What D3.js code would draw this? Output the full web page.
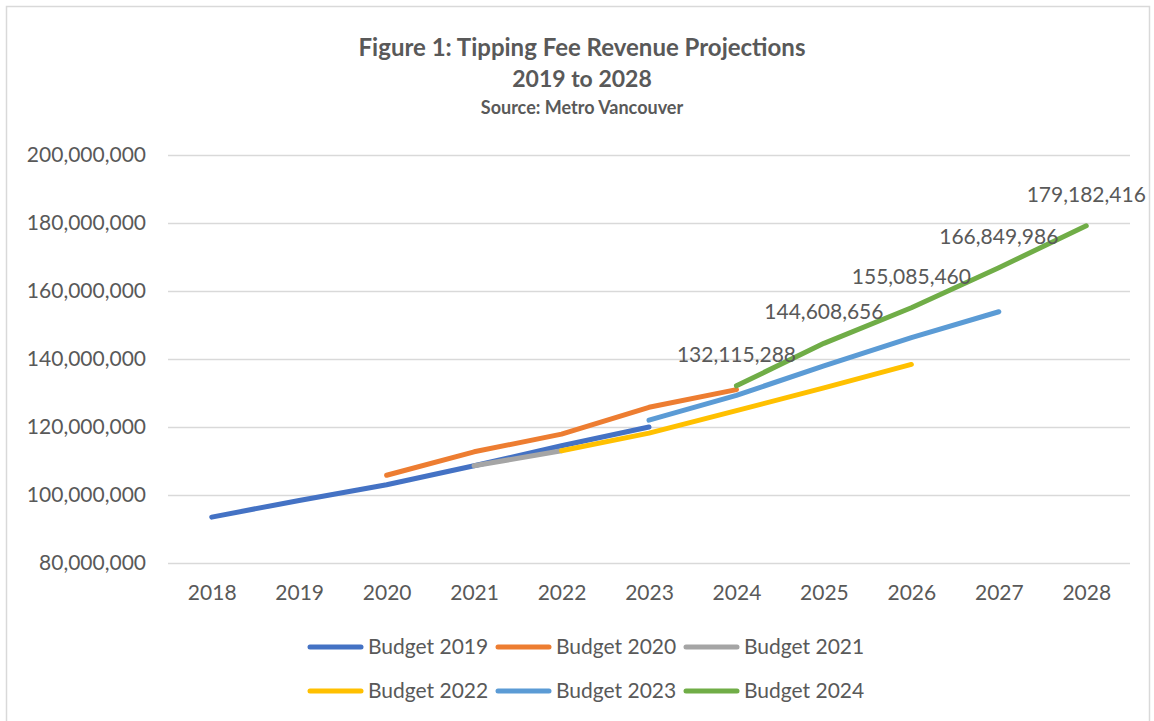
<!DOCTYPE html>
<html>
<head>
<meta charset="utf-8">
<script src="https://cdn.jsdelivr.net/npm/d3@7"></script>
<style>
  body { margin: 0; background: #fff; }
  svg text { font-family: Lato, "Open Sans", sans-serif; fill: #595959; }
</style>
</head>
<body>
<div id="chart"></div>
<script>
// tipping fee revenue projections, one line per budget year
let years = ['2018', '2019', '2020', '2021', '2022', '2023', '2024', '2025', '2026', '2027', '2028']
let seriesNames = ['Budget 2019', 'Budget 2020', 'Budget 2021', 'Budget 2022', 'Budget 2023', 'Budget 2024']
let budget2019 = [93500000, 98400000, 103000000, 108600000, 114500000, 120000000, null, null, null, null, null]
let budget2020 = [null, null, 105800000, 112700000, 117900000, 125800000, 131000000, null, null, null, null]
let budget2021 = [null, null, null, 108600000, 113000000, null, null, null, null, null, null]
let budget2022 = [null, null, null, null, 113000000, 118200000, 124800000, 131500000, 138400000, null, null]
let budget2023 = [null, null, null, null, null, 122000000, 129300000, 138000000, 146300000, 153900000, null]
let budget2024 = [null, null, null, null, null, null, 132115288, 144608656, 155085460, 166849986, 179182416]
let yTicks = [80000000, 100000000, 120000000, 140000000, 160000000, 180000000, 200000000]

let colors = ['#4472C4', '#ED7D31', '#A5A5A5', '#FFC000', '#5B9BD5', '#70AD47']
let allSeries = [budget2019, budget2020, budget2021, budget2022, budget2023, budget2024]

let width = 1154, height = 721
let svg = d3.select('#chart').append('svg').attr('width', width).attr('height', height)

// chart border
svg.append('rect')
    .attr('x', 6.5).attr('y', 6.5)
    .attr('width', 1143).attr('height', 730)
    .attr('fill', 'none').attr('stroke', '#d9d9d9').attr('stroke-width', 1.5)

// titles
svg.append('text').attr('x', 582).attr('y', 56).attr('text-anchor', 'middle')
    .style('font-size', '24px').style('font-weight', 'bold')
    .text('Figure 1: Tipping Fee Revenue Projections')
svg.append('text').attr('x', 582).attr('y', 87).attr('text-anchor', 'middle')
    .style('font-size', '23px').style('font-weight', 'bold')
    .text('2019 to 2028')
svg.append('text').attr('x', 582).attr('y', 114).attr('text-anchor', 'middle')
    .style('font-size', '18px').style('font-weight', 'bold')
    .text('Source: Metro Vancouver')

let x = d3.scalePoint().domain(years).range([168, 1130]).padding(0.5)
let y = d3.scaleLinear().domain([80000000, 200000000]).range([563, 155])

// gridlines
svg.append('g')
    .attr('transform', 'translate(168,0)')
    .call(d3.axisLeft(y).tickValues(yTicks).tickSize(-962).tickFormat(''))
    .call(g => g.select('.domain').remove())
    .call(g => g.selectAll('line').attr('stroke', '#d9d9d9').attr('stroke-width', 1.5))

// y labels
svg.append('g')
    .attr('transform', 'translate(146,0)')
    .call(d3.axisLeft(y).tickValues(yTicks).tickSize(0).tickPadding(0).tickFormat(d3.format(',')))
    .call(g => g.select('.domain').remove())
    .call(g => g.selectAll('text').style('font-size', '21px').attr('fill', '#595959'))

// x labels
svg.append('g')
    .attr('transform', 'translate(0,585)')
    .call(d3.axisBottom(x).tickSize(0).tickPadding(0))
    .call(g => g.select('.domain').remove())
    .call(g => g.selectAll('text').style('font-size', '21px').attr('fill', '#595959'))

let line = d3.line()
    .defined(d => d != null)
    .x((d, i) => x(years[i]))
    .y(d => y(d))

allSeries.forEach((s, k) => {
    svg.append('path')
        .datum(s)
        .attr('d', line)
        .attr('fill', 'none')
        .attr('stroke', colors[k])
        .attr('stroke-width', 5)
        .attr('stroke-linecap', 'round')
        .attr('stroke-linejoin', 'round')
})

// value labels on the 2024 budget line
svg.append('g').selectAll('text')
    .data(years.map((yr, i) => ({ yr: yr, v: budget2024[i] })).filter(d => d.v != null))
    .enter()
    .append('text')
    .attr('x', d => x(d.yr))
    .attr('y', d => y(d.v) - 24)
    .attr('text-anchor', 'middle')
    .style('font-size', '21px')
    .attr('fill', '#404040')
    .text(d => d3.format(',')(d.v))

// legend, two rows of three
let legend = svg.append('g')
seriesNames.forEach((name, k) => {
    let col = k % 3, row = Math.floor(k / 3)
    let lx = 310 + col * 188, ly = 647 + row * 44
    legend.append('line')
        .attr('x1', lx).attr('x2', lx + 51)
        .attr('y1', ly).attr('y2', ly)
        .attr('stroke', colors[k]).attr('stroke-width', 5).attr('stroke-linecap', 'round')
    legend.append('text')
        .attr('x', lx + 58).attr('y', ly).attr('dy', '0.35em')
        .style('font-size', '21px')
        .text(name)
})
</script>
</body>
</html>
